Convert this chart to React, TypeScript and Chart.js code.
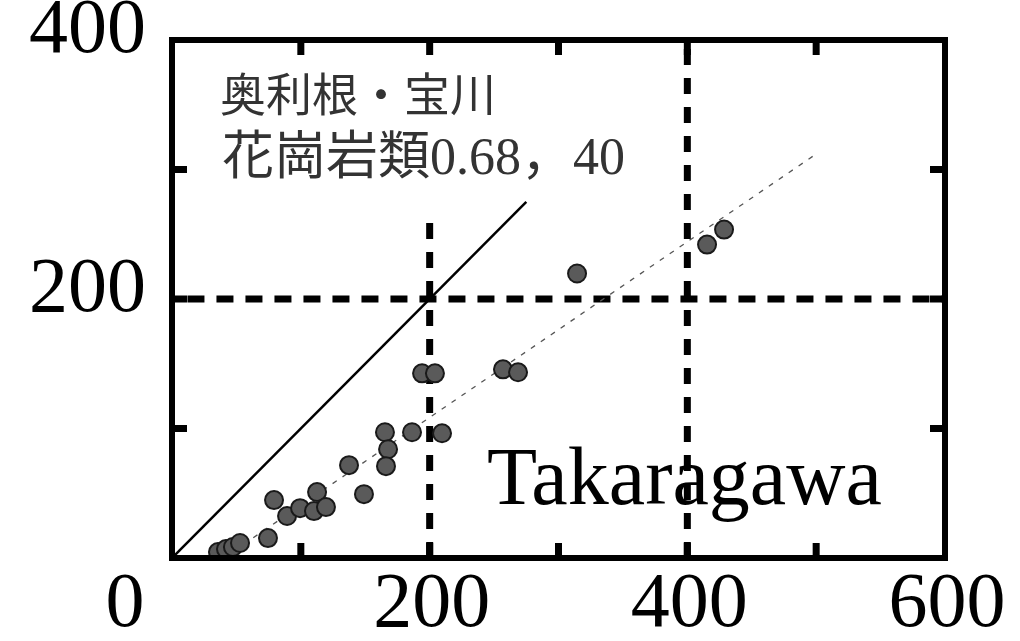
import { useEffect, useRef } from 'react';
import { Chart, registerables } from 'chart.js';

Chart.register(...registerables);

// Observed points (x, y)
const obsX = [35.7, 41.9, 47.3, 52.8, 74.5, 79.2, 89.3, 99.4, 112.6, 110.2, 119.5, 137.4, 149.0, 165.3, 167.7, 166.1, 186.3, 209.6, 194.1, 204.1, 256.9, 268.6, 314.4, 415.3, 428.5];
const obsY = [4.6, 6.9, 8.5, 11.6, 15.4, 44.7, 32.4, 38.5, 50.9, 36.2, 39.3, 71.7, 49.3, 97.1, 84.0, 70.9, 97.1, 96.3, 142.6, 142.6, 145.7, 143.4, 219.7, 242.0, 253.6];

// 1:1 line
const oneToOneX = [0, 275];
const oneToOneY = [0, 275];

// Regression line (slope 0.68, x-intercept 40)
const regX = [40, 500];
const regY = [0, 312];

// Threshold lines
const vLine200X = [200, 200];
const vLine200Y = [0, 265];
const vLine400X = [400, 400];
const vLine400Y = [0, 400];
const hLine200X = [12, 600];
const hLine200Y = [200, 200];

// Axis labels
const xLabelValues = [200, 400, 600];
const yLabelValues = [200, 400];
const cornerLabel = '0';
const minorStep = 100;

const noteLine1 = '奥利根・宝川';
const noteLine2 = '花崗岩類0.68，40';
const siteName = 'Takaragawa';

const toPts = (xs: number[], ys: number[]) => xs.map((x, i) => ({ x, y: ys[i] }));

export default function App() {
  const ref = useRef<HTMLCanvasElement | null>(null);

  useEffect(() => {
    if (!ref.current) return;

    const framePlugin = {
      id: 'framePlugin',
      afterDraw(chart: any) {
        const { ctx, chartArea } = chart;
        const xs = chart.scales.x;
        const ys = chart.scales.y;
        const { left, right, top, bottom } = chartArea;
        ctx.save();
        // frame
        ctx.strokeStyle = '#000';
        ctx.lineWidth = 6;
        ctx.strokeRect(left, top, right - left, bottom - top);
        // inward ticks
        ctx.lineWidth = 7;
        ctx.lineCap = 'butt';
        const tl = 15;
        for (let v = minorStep; v < xs.max; v += minorStep) {
          const px = xs.getPixelForValue(v);
          ctx.beginPath();
          ctx.moveTo(px, bottom);
          ctx.lineTo(px, bottom - tl);
          ctx.moveTo(px, top);
          ctx.lineTo(px, top + tl);
          ctx.stroke();
        }
        for (let v = minorStep; v < ys.max; v += minorStep) {
          const py = ys.getPixelForValue(v);
          ctx.beginPath();
          ctx.moveTo(left, py);
          ctx.lineTo(left + tl, py);
          ctx.moveTo(right, py);
          ctx.lineTo(right - tl, py);
          ctx.stroke();
        }
        // tick labels
        ctx.fillStyle = '#000';
        ctx.font = '78px "Liberation Serif", "Times New Roman", serif';
        ctx.textBaseline = 'middle';
        ctx.textAlign = 'center';
        xLabelValues.forEach((v) => {
          ctx.fillText(String(v), xs.getPixelForValue(v) + 2, bottom + 48);
        });
        ctx.fillText(cornerLabel, left - 47, bottom + 48);
        ctx.textAlign = 'right';
        yLabelValues.forEach((v) => {
          ctx.fillText(String(v), left - 26, ys.getPixelForValue(v) - 8);
        });
        // annotations
        ctx.textAlign = 'left';
        ctx.textBaseline = 'alphabetic';
        ctx.fillStyle = '#333';
        ctx.font = '46px "Liberation Serif", "Noto Sans CJK JP", serif';
        ctx.fillText(noteLine1, left + 48, top + 71);
        ctx.font = '52px "Liberation Serif", "Noto Sans CJK JP", serif';
        ctx.fillText(noteLine2, left + 50, top + 134);
        ctx.fillStyle = '#000';
        ctx.font = '82px "Liberation Serif", "Times New Roman", serif';
        ctx.fillText(siteName, left + 315, top + 464);
        ctx.restore();
      },
    };

    const thick = { borderColor: '#000', borderWidth: 7, borderDash: [16, 13], pointRadius: 0, showLine: true, order: 2, borderCapStyle: 'butt' };

    const chart = new Chart(ref.current, {
      type: 'scatter',
      data: {
        datasets: [
          {
            label: 'obs',
            data: toPts(obsX, obsY),
            backgroundColor: '#5a5a5a',
            borderColor: '#1a1a1a',
            borderWidth: 2,
            pointRadius: 9,
            order: 0,
          },
          {
            label: '1:1',
            data: toPts(oneToOneX, oneToOneY),
            borderColor: '#000',
            borderWidth: 2.5,
            pointRadius: 0,
            showLine: true,
            order: 1,
          },
          {
            label: 'reg',
            data: toPts(regX, regY),
            borderColor: '#555',
            borderWidth: 1.3,
            borderDash: [5, 7],
            pointRadius: 0,
            showLine: true,
            order: 1,
          },
          { label: 'v200', data: toPts(vLine200X, vLine200Y), ...thick },
          { label: 'v400', data: toPts(vLine400X, vLine400Y), ...thick },
          { label: 'h200', data: toPts(hLine200X, hLine200Y), ...thick, borderDash: [17, 12] },
        ] as any,
      },
      options: {
        animation: false,
        responsive: true,
        maintainAspectRatio: false,
        layout: { padding: { left: 172, right: 75, top: 40, bottom: 83 } },
        plugins: {
          legend: { display: false },
          tooltip: { enabled: false },
        },
        scales: {
          x: { type: 'linear', min: 0, max: 600, display: false },
          y: { type: 'linear', min: 0, max: 400, display: false },
        },
      },
      plugins: [framePlugin],
    });

    return () => chart.destroy();
  }, []);

  return (
    <div style={{ position: 'fixed', left: 0, top: 0, width: 1020, height: 641, background: '#fff' }}>
      <canvas ref={ref} />
    </div>
  );
}
